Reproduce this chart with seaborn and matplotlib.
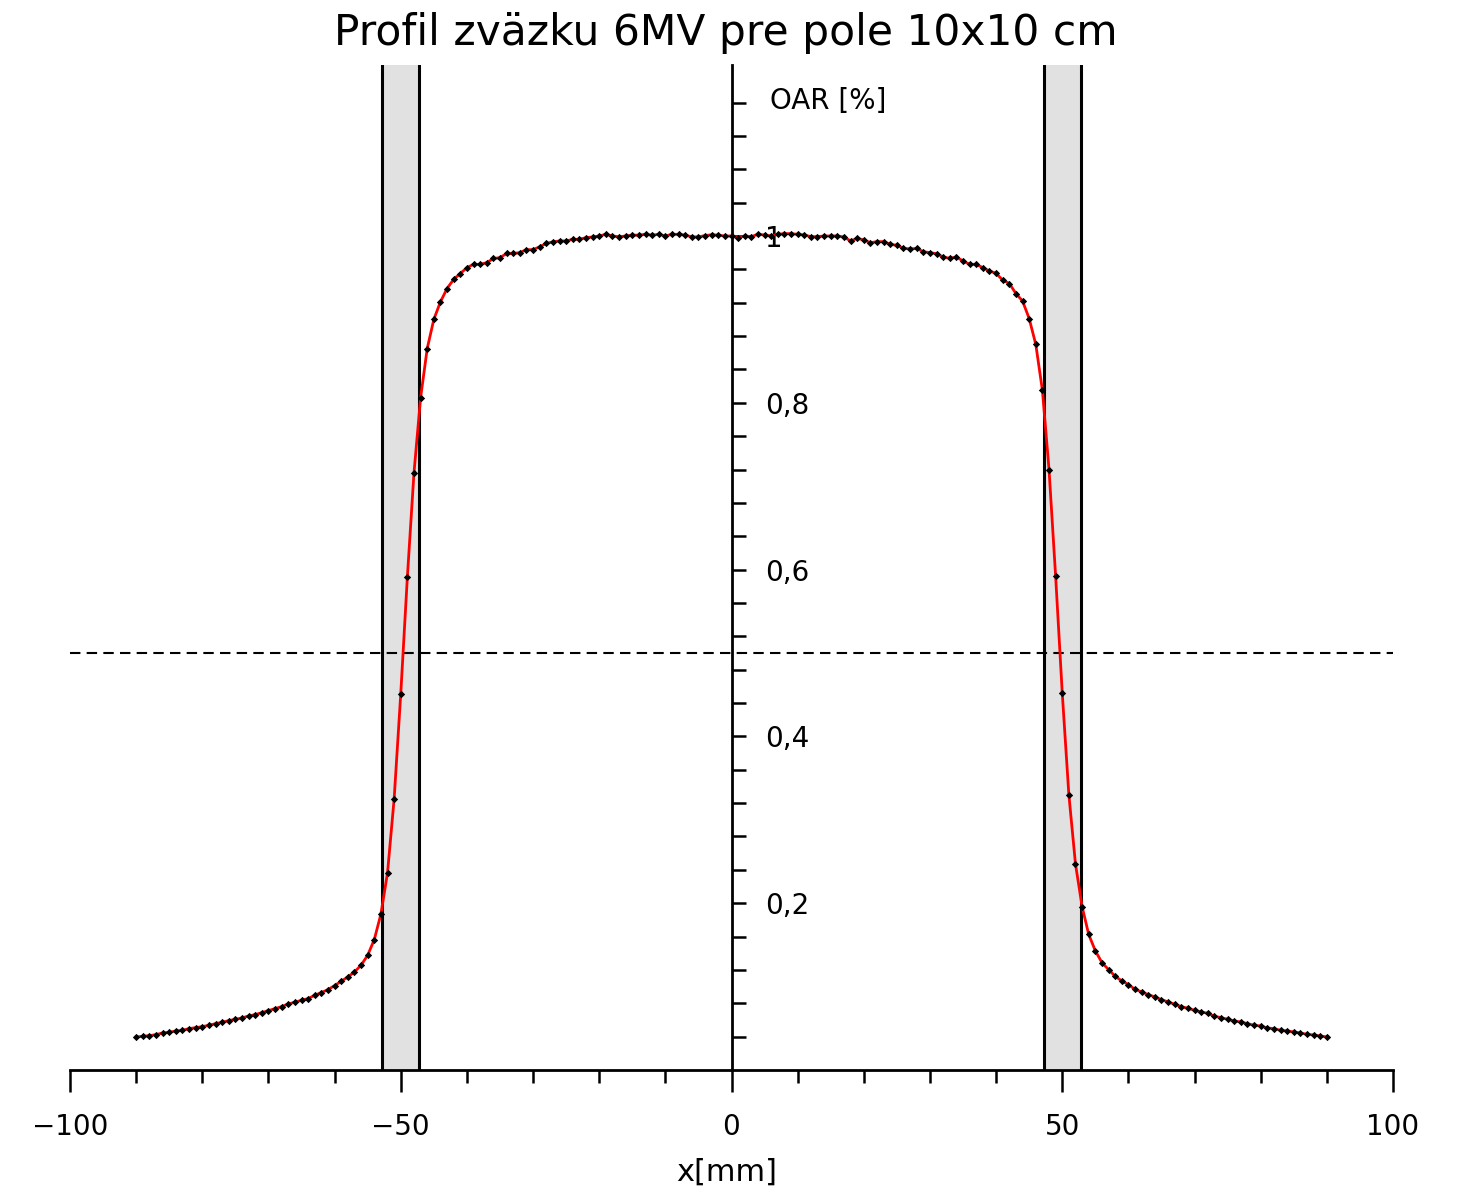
import numpy as np
import pandas as pd
import matplotlib
matplotlib.use("Agg")
import matplotlib.pyplot as plt
import seaborn as sns

# ---------------- data ----------------
x_mm = list(range(-90, 91))
oar = [
    # -90 .. -41
    0.0396, 0.0404, 0.0412, 0.0424, 0.0444, 0.0452, 0.0468, 0.0476, 0.0496, 0.0508,
    0.0520, 0.0536, 0.0556, 0.0572, 0.0592, 0.0608, 0.0624, 0.0648, 0.0664, 0.0688,
    0.0712, 0.0736, 0.0760, 0.0792, 0.0812, 0.0836, 0.0856, 0.0896, 0.0928, 0.0964,
    0.1012, 0.1064, 0.1116, 0.1176, 0.1256, 0.1376, 0.1564, 0.1870, 0.2365, 0.3250,
    0.4510, 0.5910, 0.7160, 0.8060, 0.8650, 0.9000, 0.9210, 0.9370, 0.9480, 0.9550,
    # -40 .. -1
    0.9620, 0.9660, 0.9660, 0.9680, 0.9730, 0.9740, 0.9790, 0.9790, 0.9800, 0.9836,
    0.9836, 0.9870, 0.9910, 0.9930, 0.9940, 0.9940, 0.9960, 0.9960, 0.9980, 0.9988,
    1.0000, 1.0020, 1.0000, 0.9990, 1.0000, 1.0010, 1.0010, 1.0020, 1.0010, 1.0020,
    1.0000, 1.0020, 1.0020, 1.0010, 0.9990, 0.9988, 1.0005, 1.0015, 1.0010, 1.0000,
    # 0 .. 40
    1.0000, 0.9980, 1.0000, 0.9992, 1.0020, 1.0012, 1.0000, 1.0020, 1.0028, 1.0028,
    1.0020, 1.0012, 0.9992, 0.9992, 1.0000, 1.0000, 1.0000, 0.9988, 0.9940, 0.9972,
    0.9952, 0.9920, 0.9932, 0.9932, 0.9900, 0.9888, 0.9852, 0.9845, 0.9850, 0.9812,
    0.9800, 0.9788, 0.9748, 0.9732, 0.9748, 0.9700, 0.9660, 0.9660, 0.9620, 0.9580,
    0.9552,
    # 41 .. 90
    0.9470, 0.9430, 0.9310, 0.9220, 0.9010, 0.8700, 0.8150, 0.7200, 0.5920, 0.4520,
    0.3300, 0.2470, 0.1960, 0.1625, 0.1429, 0.1288, 0.1204, 0.1124, 0.1068, 0.1024,
    0.0968, 0.0936, 0.0904, 0.0876, 0.0844, 0.0816, 0.0788, 0.0760, 0.0740, 0.0716,
    0.0696, 0.0680, 0.0644, 0.0628, 0.0608, 0.0588, 0.0576, 0.0556, 0.0536, 0.0528,
    0.0504, 0.0496, 0.0476, 0.0468, 0.0456, 0.0444, 0.0428, 0.0420, 0.0408, 0.0396,
]
band_left = [-52.8, -47.2]
band_right = [47.2, 52.9]
half_level = 0.5

x_major = [-100, -50, 0, 50, 100]
x_major_labels = ["\u2212100", "\u221250", "0", "50", "100"]
y_major = [0.2, 0.4, 0.6, 0.8, 1.0]
y_major_labels = ["0,2", "0,4", "0,6", "0,8", "1"]

title = "Profil zväzku 6MV pre pole 10x10 cm"
xlabel = "x[mm]"
ylabel = "OAR [%]"

assert len(x_mm) == len(oar)
df = pd.DataFrame({"x": x_mm, "oar": oar})

# ---------------- figure ----------------
sns.set_theme(style="white")
plt.rcParams["font.family"] = ["DejaVu Sans"]
plt.rcParams["text.color"] = "black"
plt.rcParams["xtick.color"] = "black"
plt.rcParams["ytick.color"] = "black"

W, H = 1460, 1191
fig = plt.figure(figsize=(W / 100, H / 100), dpi=100)
ax = fig.add_axes([70 / W, 1 - 1070 / H, (1393 - 70) / W, (1070 - 65) / H])

for lo, hi in (band_left, band_right):
    ax.axvspan(lo, hi, color="#e1e1e1", lw=0, zorder=0)
    ax.axvline(lo, color="black", lw=2.2, zorder=1)
    ax.axvline(hi, color="black", lw=2.2, zorder=1)

ax.axhline(half_level, color="black", lw=1.5, ls=(0, (5, 3)), zorder=1)

sns.lineplot(data=df, x="x", y="oar", color="red", lw=2.0, ax=ax, zorder=3)
sns.scatterplot(data=df, x="x", y="oar", color="black", marker="D", s=14,
                linewidth=0, ax=ax, zorder=4)

ax.set_xlim(-100, 100)
ax.set_ylim(0, 1.205)
ax.set_xlabel("")
ax.set_ylabel("")

# spines
ax.spines["top"].set_visible(False)
ax.spines["left"].set_visible(False)
ax.spines["right"].set_position(("data", 0))
for s in ("right", "bottom"):
    ax.spines[s].set_linewidth(2.0)
    ax.spines[s].set_color("black")

# ticks
ax.yaxis.tick_right()
ax.set_xticks(x_major)
ax.set_xticklabels(x_major_labels)
ax.set_xticks(list(range(-90, 100, 10)), minor=True)
ax.set_yticks(y_major)
ax.set_yticklabels(y_major_labels)
ax.set_yticks([round(0.04 * k, 2) for k in range(1, 30)], minor=True)

ax.tick_params(axis="x", which="major", bottom=True, direction="out",
               length=16, width=1.8, color="black", labelsize=20, pad=15,
               labelcolor="black")
ax.tick_params(axis="x", which="minor", bottom=True, direction="out",
               length=9, width=1.8, color="black")
ax.tick_params(axis="y", which="both", right=True, left=False, direction="out",
               length=10, width=1.8, color="black", labelsize=20, pad=14,
               labelcolor="black")

ax.text(5.8, 1.162, ylabel, ha="left", va="center", fontsize=20, color="black")
fig.text(727 / W, 1 - 1172 / H, xlabel, ha="center", va="center", fontsize=22,
         color="black")
fig.text(726 / W, 1 - 33 / H, title, ha="center", va="center", fontsize=30.5,
         color="black")

fig.savefig("out.png", dpi=100, facecolor="white")
